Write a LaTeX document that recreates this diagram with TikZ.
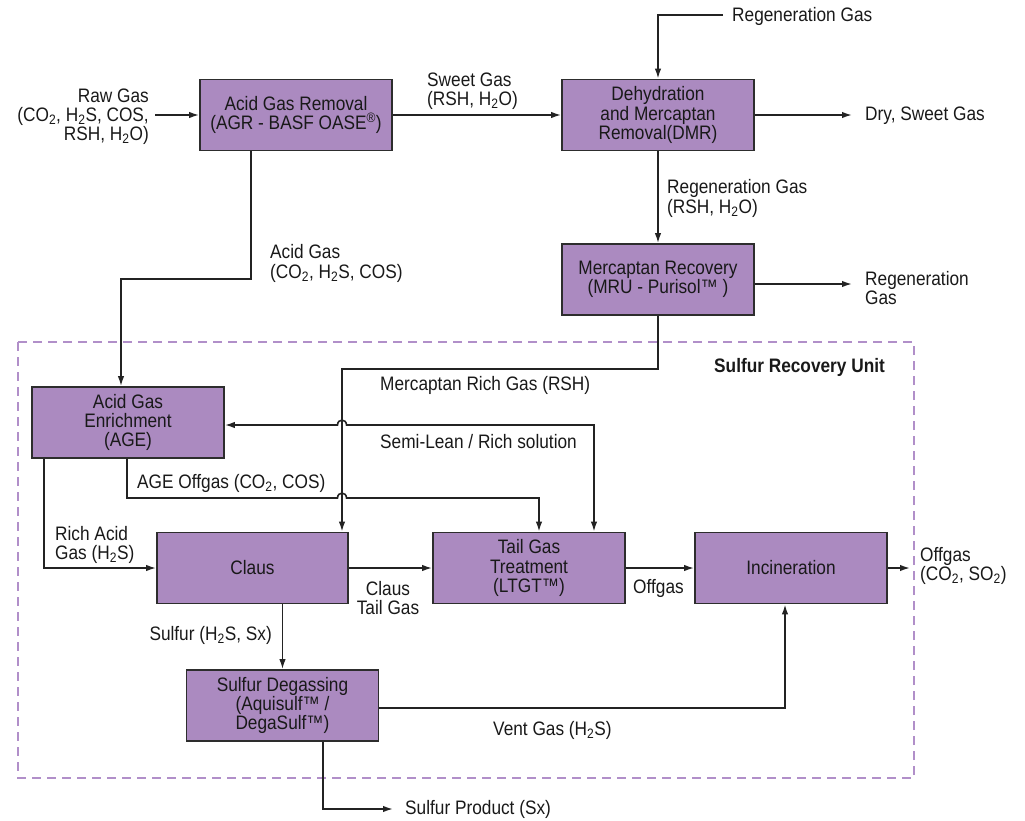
\documentclass[tikz,border=0pt]{standalone}
\usepackage{fontspec}
\setmainfont{Liberation Sans}[FakeStretch=0.885]
\usetikzlibrary{arrows.meta,calc}
\definecolor{boxfill}{RGB}{171,138,192}
\definecolor{boxline}{RGB}{45,45,45}
\definecolor{lineclr}{RGB}{35,35,35}
\definecolor{dashclr}{RGB}{177,143,201}
\newcommand{\mainf}{\fontsize{19.5}{19.2}\selectfont}
\newcommand{\sub}[1]{\textsubscript{#1}}
\begin{document}
\begin{tikzpicture}[x=1pt,y=-1pt,
  box/.style={draw=boxline, line width=1.8pt, fill=boxfill, minimum width=192pt, minimum height=71pt, align=center, inner sep=0pt, font=\mainf, text=black!90},
  lbl/.style={inner sep=0pt, font=\mainf, text=black!90},
  flow/.style={draw=lineclr, line width=1.6pt, -{Latex[length=10pt,width=6.5pt]}},
  dflow/.style={draw=lineclr, line width=1.6pt, {Latex[length=10pt,width=6.5pt]}-{Latex[length=10pt,width=6.5pt]}},
  unitbox/.style={draw=dashclr, line width=2.5pt, dash pattern=on 9pt off 6pt}
]
\useasboundingbox (0,0) rectangle (1025,820);
\draw[unitbox] (18,342) rectangle (914,778);

% boxes
\node[box] (agr) at (296,115) {Acid Gas Removal\\(AGR - BASF OASE\textsuperscript{®})};
\node[box] (dmr) at (658,115) {Dehydration\\and Mercaptan\\Removal(DMR)};
\node[box] (mru) at (658,279.5) {Mercaptan Recovery\\(MRU - Purisol™ )};
\node[box] (age) at (128,422.5) {Acid Gas\\Enrichment\\(AGE)};
\node[box, minimum width=191pt] (claus) at (252.5,568) {Claus};
\node[box] (tgt) at (529,568) {Tail Gas\\Treatment\\(LTGT™)};
\node[box] (inc) at (791,568) {Incineration};
\node[box] (sd) at (282.5,705.5) {Sulfur Degassing\\(Aquisulf™ /\\DegaSulf™)};

% labels
\node[lbl, anchor=east, align=right] (lraw) at (149,116.5) {Raw Gas\\(CO\sub{2}, H\sub{2}S, COS,\\RSH, H\sub{2}O)};
\node[lbl, anchor=west, align=left] (lsweet) at (427,91) {Sweet Gas\\(RSH, H\sub{2}O)};
\node[lbl, anchor=west] (lregtop) at (732,16) {Regeneration Gas};
\node[lbl, anchor=west] (ldry) at (865,116) {Dry, Sweet Gas};
\node[lbl, anchor=west, align=left] (lreg2) at (667,198.5) {Regeneration Gas\\(RSH, H\sub{2}O)};
\node[lbl, anchor=west, align=left] (lreg3) at (865,288) {Regeneration\\Gas};
\node[lbl, anchor=west, align=left] (lacid) at (270,263.5) {Acid Gas\\(CO\sub{2}, H\sub{2}S, COS)};
\node[lbl, anchor=west, font=\mainf\bfseries] (lsru) at (714,367) {Sulfur Recovery Unit};
\node[lbl, anchor=west] (lmerc) at (380,385) {Mercaptan Rich Gas (RSH)};
\node[lbl, anchor=west] (lsemi) at (380,442) {Semi-Lean / Rich solution};
\node[lbl, anchor=west] (lageoff) at (137,483) {AGE Offgas (CO\sub{2}, COS)};
\node[lbl, anchor=west, align=left] (lrich) at (55,545) {Rich Acid\\Gas (H\sub{2}S)};
\node[lbl, align=center] (lctg) at (388,598) {Claus\\Tail Gas};
\node[lbl, anchor=west] (loff1) at (633,588) {Offgas};
\node[lbl, anchor=west, align=left] (loff2) at (920,566) {Offgas\\(CO\sub{2}, SO\sub{2})};
\node[lbl, anchor=east] (lsulf) at (272,635) {Sulfur (H\sub{2}S, Sx)};
\node[lbl, anchor=west] (lvent) at (493,730) {Vent Gas (H\sub{2}S)};
\node[lbl, anchor=west] (lprod) at (405,809) {Sulfur Product (Sx)};

% connectors
\coordinate (rawin) at (155,115);
\draw[flow] (rawin) -- (agr.west);
\draw[flow] (agr.east) -- (dmr.west);
\coordinate (regtop) at (723,15);
\draw[flow] (regtop) -| (dmr.north);
\coordinate (dryout) at (852,115);
\draw[flow] (dmr.east) -- (dryout);
\draw[flow] (dmr.south) -- (mru.north);
\coordinate (mruout) at (852,284);
\draw[flow] (mru.east |- mruout) -- (mruout);

\coordinate (acid1) at (251,279);
\coordinate (acid2) at (121,279);
\draw[flow] (agr.south -| acid1) -- (acid1) -- (acid2) -- (acid2 |- age.north);

\coordinate (m1) at (658,369);
\coordinate (m2) at (342,369);
\draw[flow] (mru.south) -- (m1) -- (m2) -- (m2 |- claus.north);

\coordinate (s1) at (594,425);
\draw[dflow] (tgt.north -| s1) -- (s1) -- (346.5,425) .. controls (346.5,418.5) and (337.5,418.5) .. (337.5,425) -- (age.east |- s1);

\coordinate (o1) at (127,498);
\coordinate (o2) at (539,498);
\draw[flow] (age.south -| o1) -- (o1) -- (337.5,498) .. controls (337.5,491.5) and (346.5,491.5) .. (346.5,498) -- (o2) -- (o2 |- tgt.north);

\coordinate (r1) at (44,568);
\draw[flow] (age.south -| r1) -- (r1) -- (claus.west);

\draw[flow] (claus.east) -- (tgt.west);
\draw[flow] (tgt.east) -- (inc.west);
\coordinate (offout) at (910,568);
\draw[flow] (inc.east) -- (offout);
\draw[flow] (claus.south -| sd.north) -- (sd.north);

\coordinate (v1) at (785,708);
\draw[flow] (sd.east |- v1) -- (v1) -- (v1 |- inc.south);

\coordinate (p1) at (323,809);
\coordinate (p2) at (393,809);
\draw[flow] (sd.south -| p1) -- (p1) -- (p2);
\end{tikzpicture}
\end{document}
